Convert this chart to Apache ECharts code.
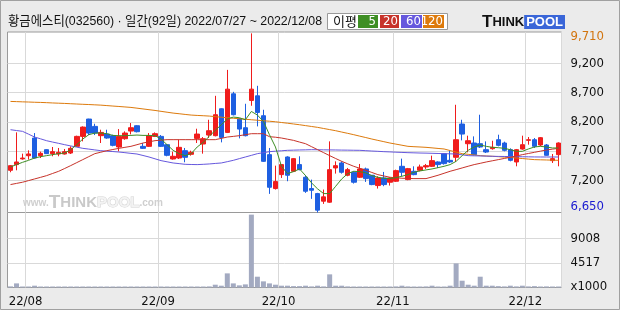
<!DOCTYPE html>
<html><head><meta charset="utf-8">
<script src="https://cdn.jsdelivr.net/npm/echarts@6/dist/echarts.min.js"></script>
<style>html,body{margin:0;padding:0;background:#ebebeb}#c{width:620px;height:310px}</style>
</head><body><div id="c"></div>
<script>
const dates = ['2022/07/27','2022/07/28','2022/07/29',
'2022/08/01','2022/08/02','2022/08/03','2022/08/04','2022/08/05','2022/08/08','2022/08/09','2022/08/10','2022/08/11','2022/08/12',
'2022/08/16','2022/08/17','2022/08/18','2022/08/19','2022/08/22','2022/08/23','2022/08/24','2022/08/25','2022/08/26','2022/08/29','2022/08/30','2022/08/31',
'2022/09/01','2022/09/02','2022/09/05','2022/09/06','2022/09/07','2022/09/08','2022/09/13','2022/09/14','2022/09/15','2022/09/16',
'2022/09/19','2022/09/20','2022/09/21','2022/09/22','2022/09/23','2022/09/26','2022/09/27','2022/09/28','2022/09/29','2022/09/30',
'2022/10/04','2022/10/05','2022/10/06','2022/10/07','2022/10/11','2022/10/12','2022/10/13','2022/10/14','2022/10/17','2022/10/18','2022/10/19','2022/10/20','2022/10/21',
'2022/10/24','2022/10/25','2022/10/26','2022/10/27','2022/10/28','2022/10/31',
'2022/11/01','2022/11/02','2022/11/03','2022/11/04','2022/11/07','2022/11/08','2022/11/09','2022/11/10','2022/11/11','2022/11/14','2022/11/15','2022/11/16','2022/11/17','2022/11/18',
'2022/11/21','2022/11/22','2022/11/23','2022/11/24','2022/11/25','2022/11/28','2022/11/29','2022/11/30',
'2022/12/01','2022/12/02','2022/12/05','2022/12/06','2022/12/07','2022/12/08'];

const opens = [7371,7468,7565,7620,7922,7621,7723,7655,7649,7649,7666,7780,7950,8246,8121,7962,7990,7962,7769,7910,
8041,8132,7780,7780,7950,7950,7808,7564,7581,7706,7644,7916,7820,7973,7962,8422,8018,8677,8251,8098,
8564,8643,8303,7638,7059,7297,7598,7354,7468,7252,7059,6973,6843,6826,7411,7496,7286,7337,7252,7394,
7286,7110,7240,7167,7184,7439,7212,7354,7371,7428,7439,7513,7655,7541,7593,8161,7825,7837,7825,7723,
7740,7893,7837,7723,7513,7734,7882,7893,7803,7803,7536,7638];
const closes = [7450,7513,7580,7650,7581,7661,7655,7689,7678,7689,7746,7950,8109,8007,8007,8018,7922,7797,7950,8007,
8098,8030,7746,7962,7996,7780,7627,7610,7763,7593,7678,7990,7911,8047,8320,7933,8757,8320,8075,7962,
8757,8359,7524,7081,7178,7468,7286,7570,7382,7013,7030,6690,6917,7382,7450,7337,7382,7167,7394,7229,
7127,7240,7127,7240,7365,7337,7399,7297,7428,7450,7536,7468,7485,7513,7893,7990,7876,7638,7769,7683,
7763,7797,7712,7541,7723,7808,7893,7780,7928,7627,7570,7837];
const lows = [7337,7371,7553,7553,7570,7581,7650,7610,7610,7640,7649,7769,7865,7973,7973,7837,7910,7780,7695,7893,
7985,8018,7735,7769,7939,7769,7610,7553,7564,7508,7621,7837,7655,7922,7950,7848,8007,8308,7916,7950,
8473,8121,7513,6968,7042,7240,7184,7343,7371,6985,6883,6650,6797,6815,7314,7314,7269,7144,7240,7172,
7116,7059,7099,7110,7172,7269,7201,7286,7354,7394,7428,7411,7468,7496,7513,7882,7678,7627,7752,7666,
7723,7780,7695,7524,7439,7723,7808,7752,7780,7621,7496,7439];
const highs = [7460,8019,7655,7712,8007,7689,7730,7769,7752,7735,7780,7962,8121,8251,8166,8064,8064,7979,8075,8036,
8178,8140,7837,8007,8018,7973,7820,7689,7893,7752,7706,8081,7939,8234,8643,8430,9086,8711,8263,8507,
9710,8814,8405,7752,7450,7475,7610,7581,7610,7286,7212,6985,7042,7865,7524,7524,7411,7354,7479,7417,
7290,7269,7343,7252,7382,7570,7411,7439,7468,7479,7621,7524,7666,7712,8490,8234,7962,7950,8320,7865,
7876,7979,7860,7746,7735,7962,7939,7922,7939,7820,7649,7848];

const ma5 = [7428,7468,7507,7541,7581,7604,7621,7638,7655,7666,7723,7808,7905,7979,8007,8007,7996,7967,7962,7962,
7967,7973,7967,7967,7962,7905,7808,7712,7655,7621,7655,7769,7848,7950,8053,8149,8246,8280,8269,8234,
8376,8314,8206,7979,7769,7439,7314,7348,7394,7280,7155,7053,6973,6973,7098,7223,7314,7354,7348,7326,
7280,7252,7235,7229,7246,7269,7297,7337,7360,7377,7394,7416,7439,7468,7524,7621,7712,7769,7803,7780,
7763,7757,7746,7723,7695,7695,7735,7769,7780,7769,7752,7752];
const ma20 = [7127,7147,7167,7195,7223,7251,7280,7317,7354,7402,7451,7502,7553,7604,7655,7680,7706,7726,7746,7763,
7780,7808,7837,7857,7877,7886,7894,7894,7894,7894,7894,7894,7894,7894,7894,7916,7939,7950,7962,7979,
7996,7996,7996,7945,7936,7922,7902,7882,7853,7825,7774,7723,7672,7621,7572,7524,7481,7439,7405,7371,
7334,7297,7274,7252,7243,7235,7232,7229,7229,7229,7257,7286,7320,7354,7382,7411,7440,7468,7490,7513,
7533,7553,7573,7593,7615,7638,7658,7678,7698,7718,7732,7746];
const ma60 = [8064,8050,8036,7988,7939,7908,7876,7853,7831,7808,7787,7767,7746,7733,7719,7706,7698,7691,7683,7672,
7660,7649,7624,7598,7567,7536,7516,7496,7485,7473,7470,7468,7473,7479,7488,7496,7518,7541,7570,7598,
7626,7655,7672,7689,7697,7704,7712,7715,7718,7720,7723,7722,7720,7719,7718,7716,7715,7713,7712,7706,
7700,7695,7689,7685,7680,7676,7672,7669,7666,7664,7661,7658,7655,7652,7649,7635,7621,7618,7616,7613,
7610,7608,7607,7605,7604,7602,7601,7599,7598,7598,7598,7598];
const ma120 = [8547,8544,8540,8537,8533,8530,8526,8521,8517,8513,8508,8503,8498,8494,8489,8484,8476,8468,8461,8453,
8445,8432,8419,8406,8393,8378,8363,8348,8337,8325,8314,8308,8303,8297,8287,8278,8268,8260,8251,8243,
8234,8226,8217,8209,8200,8187,8175,8162,8149,8134,8119,8104,8085,8066,8047,8024,8002,7979,7954,7930,
7905,7882,7860,7837,7818,7799,7780,7774,7769,7763,7754,7744,7735,7708,7682,7655,7644,7632,7621,7615,
7610,7604,7596,7589,7581,7572,7562,7553,7550,7547,7544,7541];

const volumes = [200,750,170,180,330,160,170,150,160,150,170,160,150,160,150,150,160,150,160,150,
150,150,150,160,150,150,150,150,150,160,150,150,160,200,510,330,2580,750,390,570,
13300,1970,1120,750,510,330,330,250,250,330,200,330,200,2400,330,330,200,180,170,170,
170,170,160,160,200,330,200,180,170,200,330,180,180,330,4400,1240,510,330,1970,330,
330,250,200,330,200,330,200,250,180,200,170,170];

const priceTicks = [7200, 7700, 8200, 8700, 9200];
const priceHigh = 9710, priceLow = 6650;
const priceAxisMax = 9733;
const volTicks = [4517, 9008];
const volAxisMax = 13690;

const TITLE = '황금에스티(032560) · 일간(92일) 2022/07/27 ~ 2022/12/08';
const RED = '#f01c1c', BLUE = '#1e5fe1';
const C5 = '#3e8e24', C20 = '#c7332a', C60 = '#6658dd', C120 = '#dd7a0c';
const FONT = '"Liberation Sans Narrow","DejaVu Sans Condensed","Liberation Sans","Noto Sans CJK KR",sans-serif';
const KFONT = '"Liberation Sans","Noto Sans CJK KR",sans-serif';
const GRID_C = '#d9d9d9';

// fit title into its header slot
const mctx = document.createElement('canvas').getContext('2d');
mctx.font = '13px ' + KFONT;
const titleScale = Math.min(1, 314 / mctx.measureText(TITLE).width);

const isMonthStart = (i) => i > 0 && dates[i].slice(5,7) !== dates[i-1].slice(5,7);
const fmtNum = v => String(v).replace(/\B(?=(\d{3})+(?!\d))/g, ',');

const chart = echarts.init(document.getElementById('c'), null, {renderer:'canvas', devicePixelRatio:1});
chart.setOption({
  animation: false,
  backgroundColor: '#ebebeb',
  grid: [
    {left: 7.5, top: 32, width: 554, height: 180.5, show: true, backgroundColor: '#fff', borderColor: '#9a9a9a', borderWidth: 1},
    {left: 7.5, top: 212.5, width: 554, height: 75, show: true, backgroundColor: '#fff', borderColor: '#9a9a9a', borderWidth: 1}
  ],
  xAxis: [
    {type: 'category', gridIndex: 0, data: dates, boundaryGap: true,
     axisLine: {show: false}, axisTick: {show: false}, axisLabel: {show: false},
     splitLine: {show: true, interval: (i) => isMonthStart(i), lineStyle: {color: GRID_C, width: 1}}},
    {type: 'category', gridIndex: 1, data: dates, boundaryGap: true,
     axisLine: {show: false}, axisTick: {show: false},
     axisLabel: {show: true, interval: (i) => isMonthStart(i), margin: 8, padding: [0, 6, 0, 0],
       formatter: v => v.slice(2,4) + '/' + v.slice(5,7), color: '#111', fontSize: 13, fontFamily: FONT},
     splitLine: {show: true, interval: (i) => isMonthStart(i), lineStyle: {color: GRID_C, width: 1}}}
  ],
  yAxis: [
    {type: 'value', gridIndex: 0, position: 'right', min: priceLow, max: priceAxisMax, scale: true,
     axisLine: {show: false}, axisTick: {show: false, customValues: priceTicks},
     splitLine: {show: true, lineStyle: {color: GRID_C, width: 1}},
     axisLabel: {customValues: [priceLow].concat(priceTicks, [priceHigh]), margin: 9, color: '#111',
       fontSize: 13, fontFamily: FONT,
       formatter: v => v === priceHigh ? '{mx|' + fmtNum(v) + '}' : (v === priceLow ? '{mn|' + fmtNum(v) + '}' : fmtNum(v)),
       rich: {
         mx: {color: '#d2740e', fontSize: 13, fontFamily: FONT, padding: [7, 0, 0, 0]},
         mn: {color: '#1a1ad0', fontSize: 13, fontFamily: FONT, padding: [0, 0, 11, 0]}
       }}},
    {type: 'value', gridIndex: 1, position: 'right', min: 0, max: volAxisMax,
     axisLine: {show: false}, axisTick: {show: false, customValues: volTicks},
     splitLine: {show: true, lineStyle: {color: GRID_C, width: 1}},
     axisLabel: {customValues: [0].concat(volTicks), margin: 9, color: '#111', fontSize: 13, fontFamily: FONT,
       formatter: v => v === 0 ? '{b|x1000}' : String(v),
       rich: {b: {fontSize: 13, fontFamily: FONT, color: '#111', padding: [0, 0, 2, 0]}}}}
  ],
  graphic: [
    {type: 'rect', silent: true, z: 100, shape: {x: 0.5, y: 0.5, width: 619, height: 309}, style: {fill: 'none', stroke: '#a0a0a0', lineWidth: 1}},
    {type: 'text', silent: true, z: 100, x: 8, y: 21, scaleX: titleScale, style: {text: TITLE, font: '13px ' + KFONT, fill: '#111', verticalAlign: 'middle'}},
    {type: 'rect', silent: true, z: 100, shape: {x: 327.5, y: 13.5, width: 120, height: 16}, style: {fill: '#fff', stroke: '#9a9a9a', lineWidth: 1}},
    {type: 'text', silent: true, z: 101, x: 333, y: 21.5, style: {text: '이평', font: '13px "Noto Sans CJK KR",sans-serif', fill: '#111', verticalAlign: 'middle'}},
    {type: 'rect', silent: true, z: 101, shape: {x: 358, y: 15, width: 20, height: 13}, style: {fill: C5}},
    {type: 'text', silent: true, z: 102, x: 376, y: 21.5, style: {text: '5', font: '13px ' + FONT, fill: '#fff', align: 'right', verticalAlign: 'middle'}},
    {type: 'rect', silent: true, z: 101, shape: {x: 380, y: 15, width: 19, height: 13}, style: {fill: C20}},
    {type: 'text', silent: true, z: 102, x: 398, y: 21.5, style: {text: '20', font: '13px ' + FONT, fill: '#fff', align: 'right', verticalAlign: 'middle'}},
    {type: 'rect', silent: true, z: 101, shape: {x: 401, y: 15, width: 21, height: 13}, style: {fill: C60}},
    {type: 'text', silent: true, z: 102, x: 421, y: 21.5, style: {text: '60', font: '13px ' + FONT, fill: '#fff', align: 'right', verticalAlign: 'middle'}},
    {type: 'rect', silent: true, z: 101, shape: {x: 423, y: 15, width: 21, height: 13}, style: {fill: C120}},
    {type: 'text', silent: true, z: 102, x: 443, y: 21.5, style: {text: '120', font: '13px ' + FONT, fill: '#fff', align: 'right', verticalAlign: 'middle'}},
    {type: 'text', silent: true, z: 100, x: 482, y: 22, style: {
      text: '{t|T}{h|HINK}{p|POOL}', verticalAlign: 'middle',
      rich: {
        t: {font: 'bold 17px "Liberation Sans",sans-serif', fill: '#111'},
        h: {font: 'bold 13px "Liberation Sans",sans-serif', fill: '#111'},
        p: {font: 'bold 13px "Liberation Sans",sans-serif', fill: '#fff', backgroundColor: '#3a66d8', padding: [1, 2, 0, 2]}
      }}},
    {type: 'text', silent: true, z: 1, x: 23, y: 203, style: {
      text: '{w|www.}{t|T}{h|HINK}{p|POOL}{c|.com}', verticalAlign: 'middle',
      rich: {
        w: {font: 'bold 10px "Liberation Sans",sans-serif', fill: '#cfcfcf'},
        t: {font: 'bold 19px "Liberation Sans",sans-serif', fill: '#c9c9c9'},
        h: {font: 'bold 15px "Liberation Sans",sans-serif', fill: '#c9c9c9'},
        p: {font: 'bold 15px "Liberation Sans",sans-serif', fill: '#f3f3f3', stroke: '#d2d2d2', lineWidth: 1},
        c: {font: 'bold 10px "Liberation Sans",sans-serif', fill: '#cfcfcf'}
      }}}
  ],
  series: [
    {type: 'candlestick', xAxisIndex: 0, yAxisIndex: 0, z: 3, barWidth: 5,
     data: dates.map((d, i) => [opens[i], closes[i], lows[i], highs[i]]),
     itemStyle: {color: RED, color0: BLUE, borderColor: RED, borderColor0: BLUE, borderWidth: 1}},
    {type: 'line', xAxisIndex: 0, yAxisIndex: 0, z: 4, data: ma120, showSymbol: false, lineStyle: {color: C120, width: 1}},
    {type: 'line', xAxisIndex: 0, yAxisIndex: 0, z: 4, data: ma60, showSymbol: false, lineStyle: {color: C60, width: 1}},
    {type: 'line', xAxisIndex: 0, yAxisIndex: 0, z: 4, data: ma20, showSymbol: false, lineStyle: {color: C20, width: 1}},
    {type: 'line', xAxisIndex: 0, yAxisIndex: 0, z: 4, data: ma5, showSymbol: false, lineStyle: {color: C5, width: 1}},
    {type: 'bar', xAxisIndex: 1, yAxisIndex: 1, z: 3, barWidth: 5, barMinHeight: 1, data: volumes, itemStyle: {color: '#a3aac1'}}
  ]
});
</script></body></html>
